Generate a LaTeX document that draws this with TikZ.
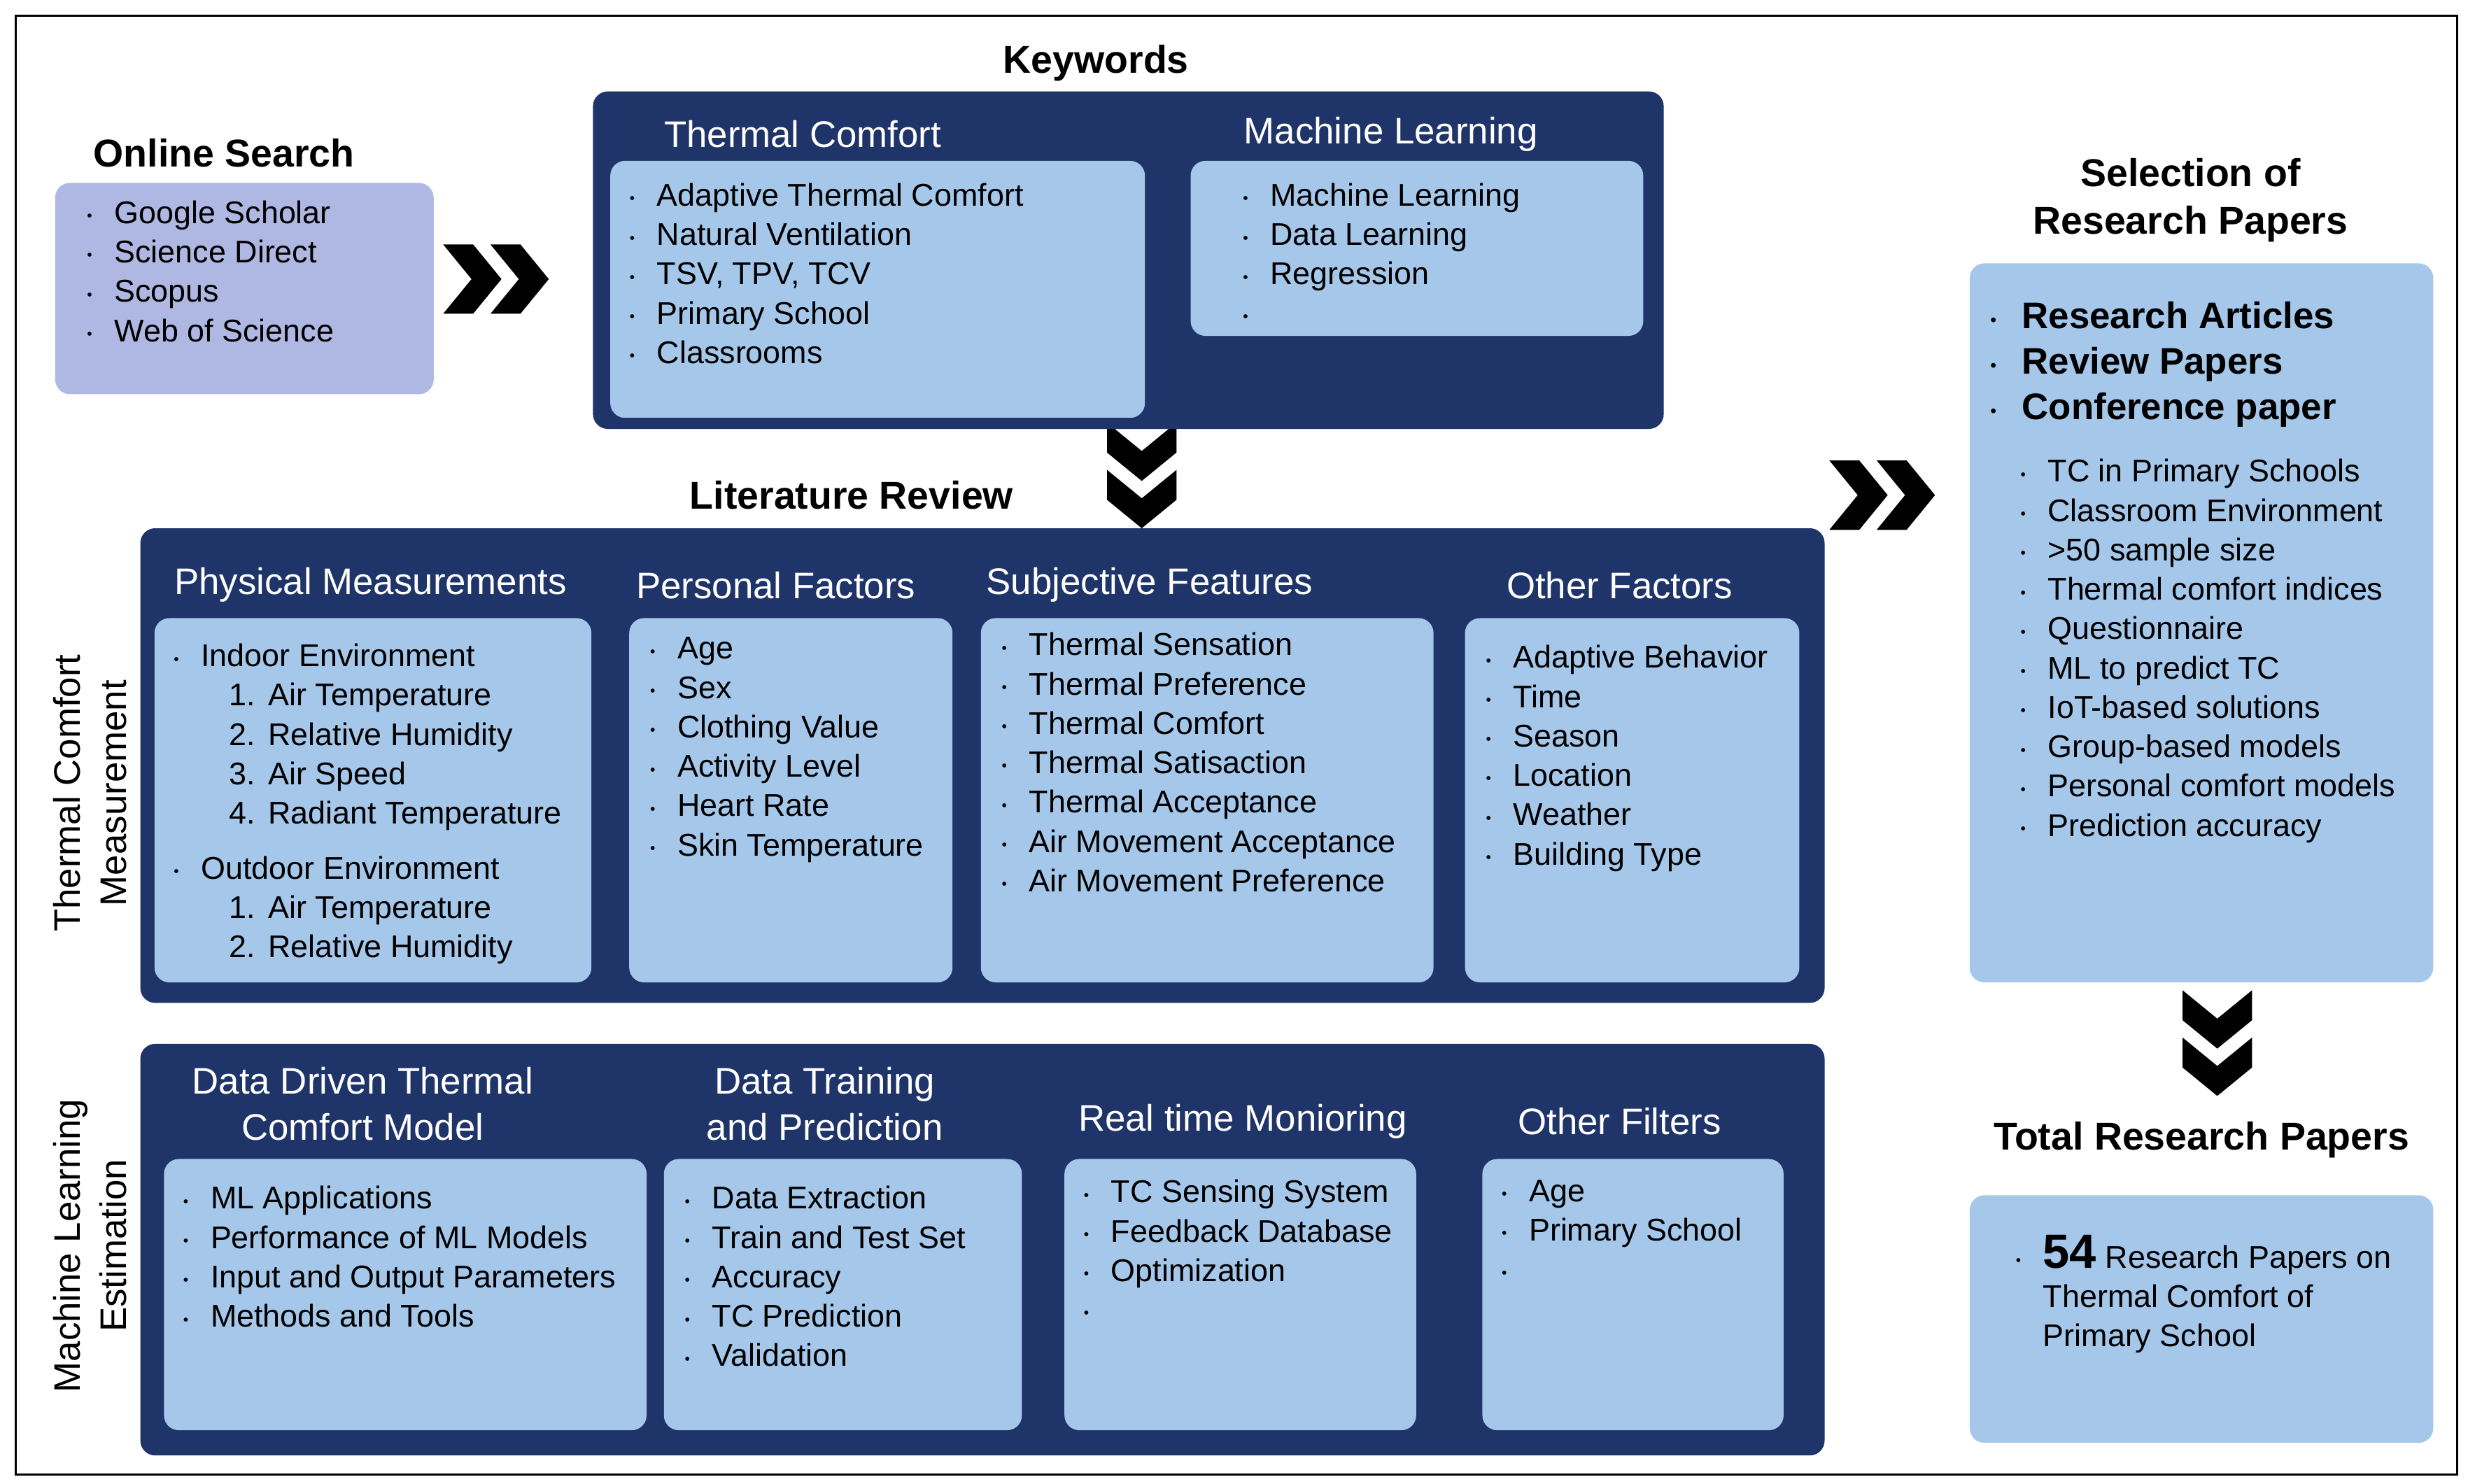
\documentclass[tikz,border=0pt]{standalone}
\usepackage{fontspec}
\setmainfont{Liberation Sans}
\begin{document}
\definecolor{navy}{HTML}{1F3468}
\definecolor{lb}{HTML}{A5C7EA}
\definecolor{lav}{HTML}{AEB8E2}
\newcommand\li[1]{\makebox[0.52cm][l]{\raisebox{0.15ex}{\footnotesize\textbullet}}#1}
\newcommand\nm[2]{\hspace{1.05cm}#1.\hspace{0.25cm}#2}
\begin{tikzpicture}[x=0.03cm,y=-0.03cm,
 dark/.style={fill=navy,rounded corners=8pt},
 light/.style={fill=lb,rounded corners=8pt},
 body/.style={font=\fontsize{17}{21.3}\selectfont,align=left,inner sep=0,anchor=north west},
 wt/.style={font=\fontsize{20}{25}\selectfont,text=white,inner sep=0,align=center},
 bt/.style={font=\fontsize{21}{25.5}\selectfont\bfseries,inner sep=0,align=center},
 chev/.style={fill=black}]
\path[use as bounding box] (0,0) rectangle (1565,941);
\draw[line width=1.2pt] (10,10) rectangle (1558,935);
% chevrons
\newcommand\chr[2]{\fill (#1-29,#2-22) -- (#1-10,#2-22) -- (#1+8,#2) -- (#1-10,#2+22) -- (#1-29,#2+22) -- (#1-11,#2) -- cycle;
 \fill (#1+1,#2-22) -- (#1+20,#2-22) -- (#1+38,#2) -- (#1+20,#2+22) -- (#1+1,#2+22) -- (#1+19,#2) -- cycle;}
\newcommand\chd[2]{\fill (#1-22,#2-29) -- (#1-22,#2-10) -- (#1,#2+8) -- (#1+22,#2-10) -- (#1+22,#2-29) -- (#1,#2-11) -- cycle;
 \fill (#1-22,#2+1) -- (#1-22,#2+20) -- (#1,#2+38) -- (#1+22,#2+20) -- (#1+22,#2+1) -- (#1,#2+19) -- cycle;}
\chr{310}{177}
\chr{1189}{314}
\chd{724}{297}
\chd{1406}{657}
% Online search
\node[bt] (ost) at (142,97) {Online Search};
\fill[lav,rounded corners=8pt] (35,116) rectangle (275,250);
\node[body] (osl) at (55,127) {\li{Google Scholar}\\\li{Science Direct}\\\li{Scopus}\\\li{Web of Science}};
% Keywords
\node[bt] (kwt) at (695,40) {Keywords};
\fill[dark] (376,58) rectangle (1055,272);
\node[wt] (tct) at (509,85) {Thermal Comfort};
\fill[light] (387,102) rectangle (726,265);
\node[body] (tcl) at (399,116) {\li{Adaptive Thermal Comfort}\\\li{Natural Ventilation}\\\li{TSV, TPV, TCV}\\\li{Primary School}\\\li{Classrooms}};
\node[wt] (mlt) at (882,85) {Machine Learning};
\fill[light] (755,102) rectangle (1042,213);
\node[body] (mll) at (788,116) {\li{Machine Learning}\\\li{Data Learning}\\\li{Regression}\\\li{}};
% Literature review
\node[bt] (lrt) at (540,314) {Literature Review};
\fill[dark] (89,335) rectangle (1157,636);
\node[wt] (pmt) at (235,371) {Physical Measurements};
\fill[light] (98,392) rectangle (375,623);
\node[body] (pml) at (110,408) {\li{Indoor Environment}\\\nm{1}{Air Temperature}\\\nm{2}{Relative Humidity}\\\nm{3}{Air Speed}\\\nm{4}{Radiant Temperature}\\[0.3cm]\li{Outdoor Environment}\\\nm{1}{Air Temperature}\\\nm{2}{Relative Humidity}};
\node[wt] (pft) at (492,371) {Personal Factors};
\fill[light] (399,392) rectangle (604,623);
\node[body] (pfl) at (412,404) {\li{Age}\\\li{Sex}\\\li{Clothing Value}\\\li{Activity Level}\\\li{Heart Rate}\\\li{Skin Temperature}};
\node[wt] (sft) at (729,371) {Subjective Features};
\fill[light] (622,392) rectangle (909,623);
\node[body] (sfl) at (635,401) {\li{Thermal Sensation}\\\li{Thermal Preference}\\\li{Thermal Comfort}\\\li{Thermal Satisaction}\\\li{Thermal Acceptance}\\\li{Air Movement Acceptance}\\\li{Air Movement Preference}};
\node[wt] (oft) at (1027,371) {Other Factors};
\fill[light] (929,392) rectangle (1141,623);
\node[body] (ofl) at (942,409) {\li{Adaptive Behavior}\\\li{Time}\\\li{Season}\\\li{Location}\\\li{Weather}\\\li{Building Type}};
\node[font=\fontsize{20}{25}\selectfont,align=center,rotate=90,inner sep=0] (tcm) at (57,503) {Thermal Comfort\\Measurement};
% ML estimation
\fill[dark] (89,662) rectangle (1157,923);
\node[wt] (ddt) at (230,700) {Data Driven Thermal\\Comfort Model};
\fill[light] (104,735) rectangle (410,907);
\node[body] (ddl) at (116,752) {\li{ML Applications}\\\li{Performance of ML Models}\\\li{Input and Output Parameters}\\\li{Methods and Tools}};
\node[wt] (dtt) at (523,700) {Data Training\\and Prediction};
\fill[light] (421,735) rectangle (648,907);
\node[body] (dtl) at (434,752) {\li{Data Extraction}\\\li{Train and Test Set}\\\li{Accuracy}\\\li{TC Prediction}\\\li{Validation}};
\node[wt] (rtt) at (788,711) {Real time Monioring};
\fill[light] (675,735) rectangle (898,907);
\node[body] (rtl) at (687,748) {\li{TC Sensing System}\\\li{Feedback Database}\\\li{Optimization}\\\li{}};
\node[wt] (oit) at (1027,711) {Other Filters};
\fill[light] (940,735) rectangle (1131,907);
\node[body] (oil) at (952,748) {\li{Age}\\\li{Primary School}\\\li{}};
\node[font=\fontsize{20}{25}\selectfont,align=center,rotate=90,inner sep=0] (mle) at (57,790) {Machine Learning\\Estimation};
% Selection
\node[bt] (sel) at (1389,127) {Selection of\\Research Papers};
\fill[light] (1249,167) rectangle (1543,623);
\node[body,font=\fontsize{20}{24.7}\selectfont\bfseries] (sl1) at (1262,191) {\makebox[0.6cm][l]{\raisebox{0.15ex}{\small\textbullet}}Research Articles\\\makebox[0.6cm][l]{\raisebox{0.15ex}{\small\textbullet}}Review Papers\\\makebox[0.6cm][l]{\raisebox{0.15ex}{\small\textbullet}}Conference paper};
\node[body] (sl2) at (1281,291) {\li{TC in Primary Schools}\\\li{Classroom Environment}\\\li{>50 sample size}\\\li{Thermal comfort indices}\\\li{Questionnaire}\\\li{ML to predict TC}\\\li{IoT-based solutions}\\\li{Group-based models}\\\li{Personal comfort models}\\\li{Prediction accuracy}};
% Total
\node[bt] (tot) at (1396,723) {Total Research Papers};
\fill[light] (1249,758) rectangle (1543,915);
\node[body] (tol) at (1278,783) {\li{{\fontsize{26}{26}\selectfont\bfseries 54} Research Papers on}\\\hspace{0.52cm}Thermal Comfort of\\\hspace{0.52cm}Primary School};
\end{tikzpicture}
\end{document}
